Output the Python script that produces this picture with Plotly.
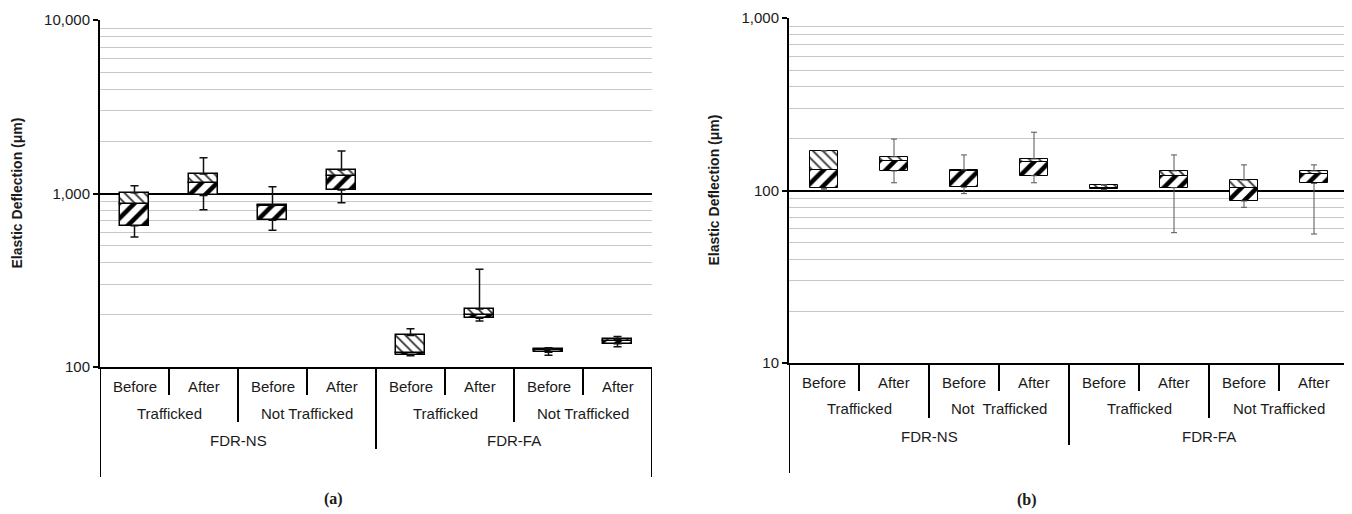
import plotly.graph_objects as go

# ---------------- data ----------------
positions = [0, 1, 2, 3, 4, 5, 6, 7]
level1 = ["Before", "After", "Before", "After", "Before", "After", "Before", "After"]
level2_a = ["Trafficked", "Not Trafficked", "Trafficked", "Not Trafficked"]
level2_b = ["Trafficked", "Not\u00a0 Trafficked", "Trafficked", "Not Trafficked"]
level3 = ["FDR-NS", "FDR-FA"]

# panel (a) elastic deflection (um): min, Q1, median, Q3, max
a_min = [561, 807, 614, 885, 116, 184, 117, 131]
a_q1 = [652, 976, 701, 1048, 117, 191, 121.5, 136]
a_med = [866, 1145, 845, 1267, 121, 199, 124.8, 142]
a_q3 = [1011, 1295, 855, 1366, 152, 216, 126.5, 144.5]
a_max = [1109, 1608, 1095, 1760, 166, 366, 129, 150]

# panel (b)
b_min = [101, 111, 96, 111, 101, 57, 80, 56]
b_q1 = [103, 130, 104.5, 122, 101.5, 104, 87, 110]
b_med = [132, 148, 130, 147, 104, 121.5, 103, 124]
b_q3 = [170, 157, 132, 152.5, 107.5, 130, 115, 130]
b_max = [170, 199, 161, 218, 108, 161, 141, 141]

a_ticks = [100, 1000, 10000]
a_ticktext = ["100", "1,000", "10,000"]
b_ticks = [10, 100, 1000]
b_ticktext = ["10", "100", "1,000"]

# ---------------- layout helpers ----------------
OFF = 8                      # default page body margin
W, H = 1352 - OFF, 514 - OFF  # figure size so that it fits the window
FONT = "Liberation Sans, Arial, Helvetica, sans-serif"
TXT = "#1a1a1a"


def fy(p):
    return 1 - (p - OFF) / H


def fx(p):
    return (p - OFF) / W


def minor_vals(lo_exp, hi_exp):
    vals = []
    for e in range(lo_exp, hi_exp):
        for k in range(2, 10):
            vals.append(k * 10 ** e)
    return vals


panels = [
    dict(data=(a_min, a_q1, a_med, a_q3, a_max), xd=(100, 652), yd=(20, 367),
         yr=(2, 4), ticks=a_ticks, ticktext=a_ticktext, l2=level2_a,
         edge_w=1.5, wc="#111111", ww=1.5, cap=4, label="(a)",
         label_xy=(333, 499), title_x=16, rows=(19, 46, 73), sfx=""),
    dict(data=(b_min, b_q1, b_med, b_q3, b_max), xd=(789, 1349), yd=(18, 363),
         yr=(1, 3), ticks=b_ticks, ticktext=b_ticktext, l2=level2_b,
         edge_w=1.0, wc="#555555", ww=1.0, cap=3, label="(b)",
         label_xy=(1027, 500), title_x=713, rows=(19, 45, 73), sfx="2"),
]

fig = go.Figure()
shapes = []
annotations = []


def ann(**kw):
    base = dict(showarrow=False, xanchor="center", yanchor="middle",
                font=dict(family=FONT, size=15, color=TXT))
    base.update(kw)
    annotations.append(base)


for p in panels:
    mn, q1, med, q3, mx = p["data"]
    xa = "x" + p["sfx"]
    ya = "y" + p["sfx"]
    lower = [m - a for m, a in zip(med, q1)]
    upper = [b - m for b, m in zip(q3, med)]
    fig.add_trace(go.Bar(
        x=positions, y=lower, base=q1, width=0.41, xaxis=xa, yaxis=ya,
        opacity=1,
        marker=dict(color="white", opacity=1,
                    line=dict(color="black", width=p["edge_w"]),
                    pattern=dict(shape="/", fgcolor="black", bgcolor="white",
                                 fgopacity=1, size=11, solidity=0.42)),
        hoverinfo="skip"))
    fig.add_trace(go.Bar(
        x=positions, y=upper, base=med, width=0.41, xaxis=xa, yaxis=ya,
        opacity=1,
        marker=dict(color="white", opacity=1,
                    line=dict(color="black", width=p["edge_w"]),
                    pattern=dict(shape="\\", fgcolor="#333333", bgcolor="white",
                                 fgopacity=1, size=7, solidity=0.26)),
        hoverinfo="skip"))
    # whiskers (upper and lower)
    fig.add_trace(go.Scatter(
        x=positions, y=q3, mode="markers", xaxis=xa, yaxis=ya,
        marker=dict(size=1, opacity=0),
        error_y=dict(type="data", symmetric=False,
                     array=[b - a for b, a in zip(mx, q3)],
                     arrayminus=[0] * len(q3), color=p["wc"],
                     thickness=p["ww"], width=p["cap"]),
        hoverinfo="skip"))
    fig.add_trace(go.Scatter(
        x=positions, y=q1, mode="markers", xaxis=xa, yaxis=ya,
        marker=dict(size=1, opacity=0),
        error_y=dict(type="data", symmetric=False,
                     array=[0] * len(q1),
                     arrayminus=[a - b for a, b in zip(q1, mn)], color=p["wc"],
                     thickness=p["ww"], width=p["cap"]),
        hoverinfo="skip"))

    ytop, ybot = p["yd"]
    xl, xr = p["xd"]
    xaxis_cfg = dict(domain=[fx(xl), fx(xr)], range=[-0.5, 7.5],
                     showgrid=False, zeroline=False, showticklabels=False,
                     ticks="", showline=True, linecolor="black", linewidth=2,
                     anchor=ya, fixedrange=True, automargin=False)
    yaxis_cfg = dict(domain=[fy(ybot), fy(ytop)], type="log",
                     range=[p["yr"][0], p["yr"][1] + 0.001],
                     tickvals=p["ticks"],
                     ticktext=p["ticktext"], ticks="outside", ticklen=5,
                     tickwidth=1.5, tickcolor="black", showline=True,
                     linecolor="black", linewidth=2, showgrid=True,
                     gridcolor="black", gridwidth=1.5, zeroline=False,
                     ticklabeloverflow="allow",
                     tickfont=dict(family=FONT, size=15, color=TXT),
                     anchor=xa, fixedrange=True, automargin=False,
                     minor=dict(tickvals=minor_vals(p["yr"][0], p["yr"][1]),
                                showgrid=True, gridcolor="#c8c8c8",
                                gridwidth=1.3, ticks=""))
    fig.update_layout(**{"xaxis" + p["sfx"]: xaxis_cfg,
                         "yaxis" + p["sfx"]: yaxis_cfg})

    # category table below the plot
    r1, r2, r3 = p["rows"]
    for i, lab in enumerate(level1):
        ann(x=positions[i], y=fy(ybot + r1), xref=xa, yref="paper", text=lab)
    for g, lab in enumerate(p["l2"]):
        cx = (positions[2 * g] + positions[2 * g + 1]) / 2
        ann(x=cx, y=fy(ybot + r2), xref=xa, yref="paper", text=lab)
    for g, lab in enumerate(level3):
        cx = (positions[4 * g] + positions[4 * g + 3]) / 2
        ann(x=cx, y=fy(ybot + r3), xref=xa, yref="paper", text=lab)
    # dividers
    div_len = {0.5: 28, 2.5: 28, 4.5: 28, 6.5: 28,
               1.5: 55, 5.5: 55, 3.5: 82, -0.5: 110, 7.5: 110}
    for xv, ln in div_len.items():
        shapes.append(dict(type="line", xref=xa, yref="paper", x0=xv, x1=xv,
                           y0=fy(ybot), y1=fy(ybot + ln),
                           line=dict(color="black", width=2)))
    # axis title and panel label
    ann(x=fx(p["title_x"]), y=fy((ytop + ybot) / 2), xref="paper",
        yref="paper", text="<b>Elastic Deflection (\u03bcm)</b>",
        textangle=-90, font=dict(family=FONT, size=14, color=TXT))
    ann(x=fx(p["label_xy"][0]), y=fy(p["label_xy"][1]), xref="paper",
        yref="paper", text="<b>" + p["label"] + "</b>",
        font=dict(family="Liberation Serif, Times New Roman, serif",
                  size=16, color=TXT))

fig.update_layout(width=W, height=H, autosize=False,
                  margin=dict(l=0, r=0, t=0, b=0, pad=0, autoexpand=False),
                  plot_bgcolor="white", paper_bgcolor="white",
                  showlegend=False, barmode="overlay", bargap=0,
                  shapes=shapes, annotations=annotations)

fig.write_html("out.html")
